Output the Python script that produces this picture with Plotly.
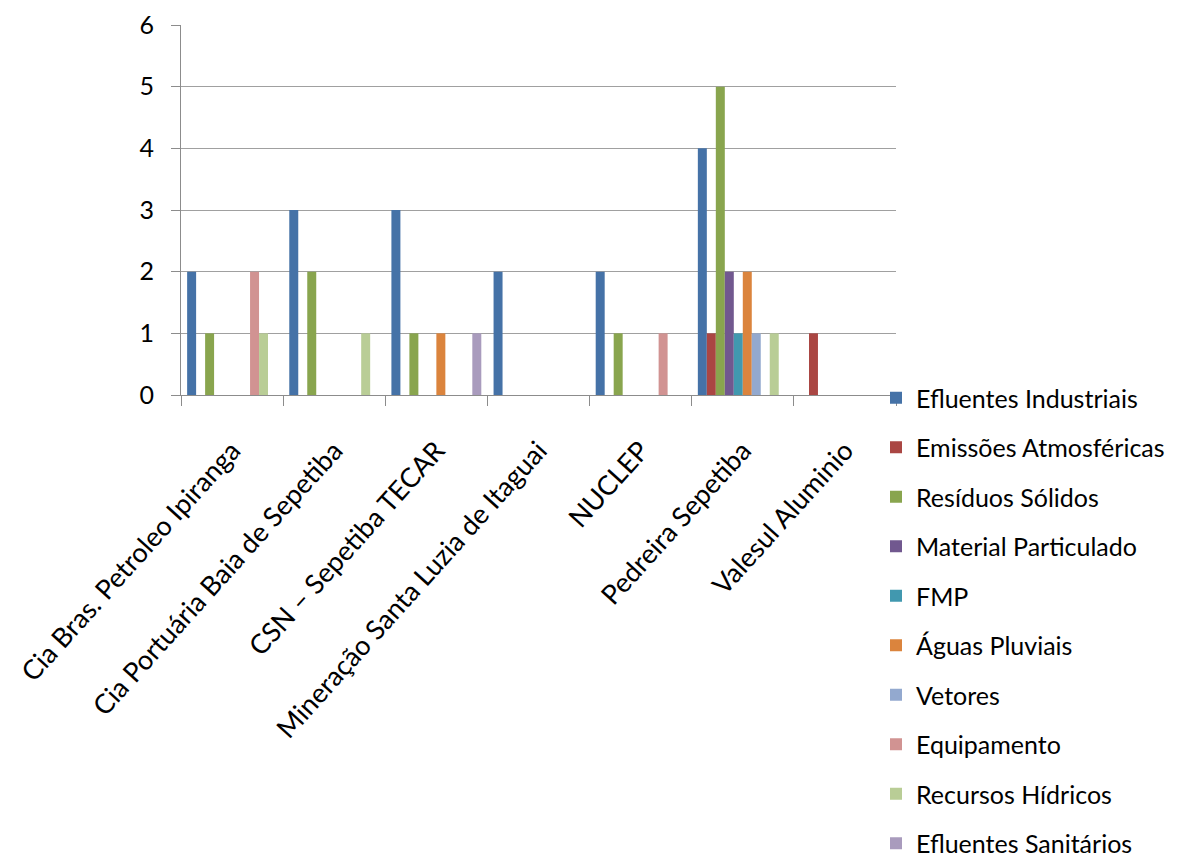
import plotly.graph_objects as go

categories = ["Cia Bras. Petroleo Ipiranga", "Cia Portuária Baia de Sepetiba", "CSN – Sepetiba TECAR",
              "Mineração Santa Luzia de Itaguai", "NUCLEP", "Pedreira Sepetiba", "Valesul Aluminio"]
series_names = ["Efluentes Industriais", "Emissões Atmosféricas", "Resíduos Sólidos", "Material Particulado",
                "FMP", "Águas Pluviais", "Vetores", "Equipamento", "Recursos Hídricos", "Efluentes Sanitários"]
efluentes_industriais = [2, 3, 3, 2, 2, 4, 0]
emissoes_atmosfericas = [0, 0, 0, 0, 0, 1, 1]
residuos_solidos = [1, 2, 1, 0, 1, 5, 0]
material_particulado = [0, 0, 0, 0, 0, 2, 0]
fmp = [0, 0, 0, 0, 0, 1, 0]
aguas_pluviais = [0, 0, 1, 0, 0, 2, 0]
vetores = [0, 0, 0, 0, 0, 1, 0]
equipamento = [2, 0, 0, 0, 1, 0, 0]
recursos_hidricos = [1, 1, 0, 0, 0, 1, 0]
efluentes_sanitarios = [0, 0, 1, 0, 0, 0, 0]
y_ticks = [0, 1, 2, 3, 4, 5, 6]

series_values = [efluentes_industriais, emissoes_atmosfericas, residuos_solidos, material_particulado, fmp,
                 aguas_pluviais, vetores, equipamento, recursos_hidricos, efluentes_sanitarios]
colors = ["#4572A7", "#AA4643", "#89A54E", "#71588F", "#4198AF", "#DB843D", "#93A9CF", "#D19392",
          "#B9CD96", "#A99BBD"]

FONT = "Lato, 'Open Sans', sans-serif"

fig = go.Figure()
for i, (name, vals) in enumerate(zip(series_names, series_values)):
    fig.add_trace(go.Bar(x=categories, y=vals, name=name, marker_color=colors[i],
                         marker_line_width=0, legendgroup=f"g{i}"))

fig.update_layout(
    width=1184, height=861,
    margin=dict(l=181, r=288, t=25, b=466, autoexpand=False),
    plot_bgcolor="white", paper_bgcolor="white",
    barmode="group", bargap=0.12, bargroupgap=0,
    font=dict(family=FONT, color="black"),
    showlegend=True,
    legend=dict(
        xref="container", yref="container", x=876 / 1184, y=1 - 375 / 861,
        xanchor="left", yanchor="top",
        traceorder="grouped", tracegroupgap=14,
        font=dict(size=25, family=FONT, color="black"),
        bgcolor="rgba(0,0,0,0)", borderwidth=0,
        maxheight=900,
    ),
)
fig.update_xaxes(
    showline=True, linecolor="#8c8c8c", linewidth=1,
    ticks="outside", tickson="boundaries", ticklen=10, tickcolor="#8c8c8c",
    tickangle=-48, tickfont=dict(size=27, family=FONT, color="black"),
    ticklabelstandoff=28,
    showgrid=False,
)
fig.update_yaxes(
    range=[0, 6], tickvals=y_ticks, showline=True, linecolor="#8c8c8c", linewidth=1,
    ticks="outside", ticklen=9, tickcolor="#8c8c8c",
    showgrid=True, gridcolor="#a0a0a0", gridwidth=1, zeroline=False,
    tickfont=dict(size=25, family=FONT, color="black"), ticklabelstandoff=12,
)

fig.write_html("out.html")
